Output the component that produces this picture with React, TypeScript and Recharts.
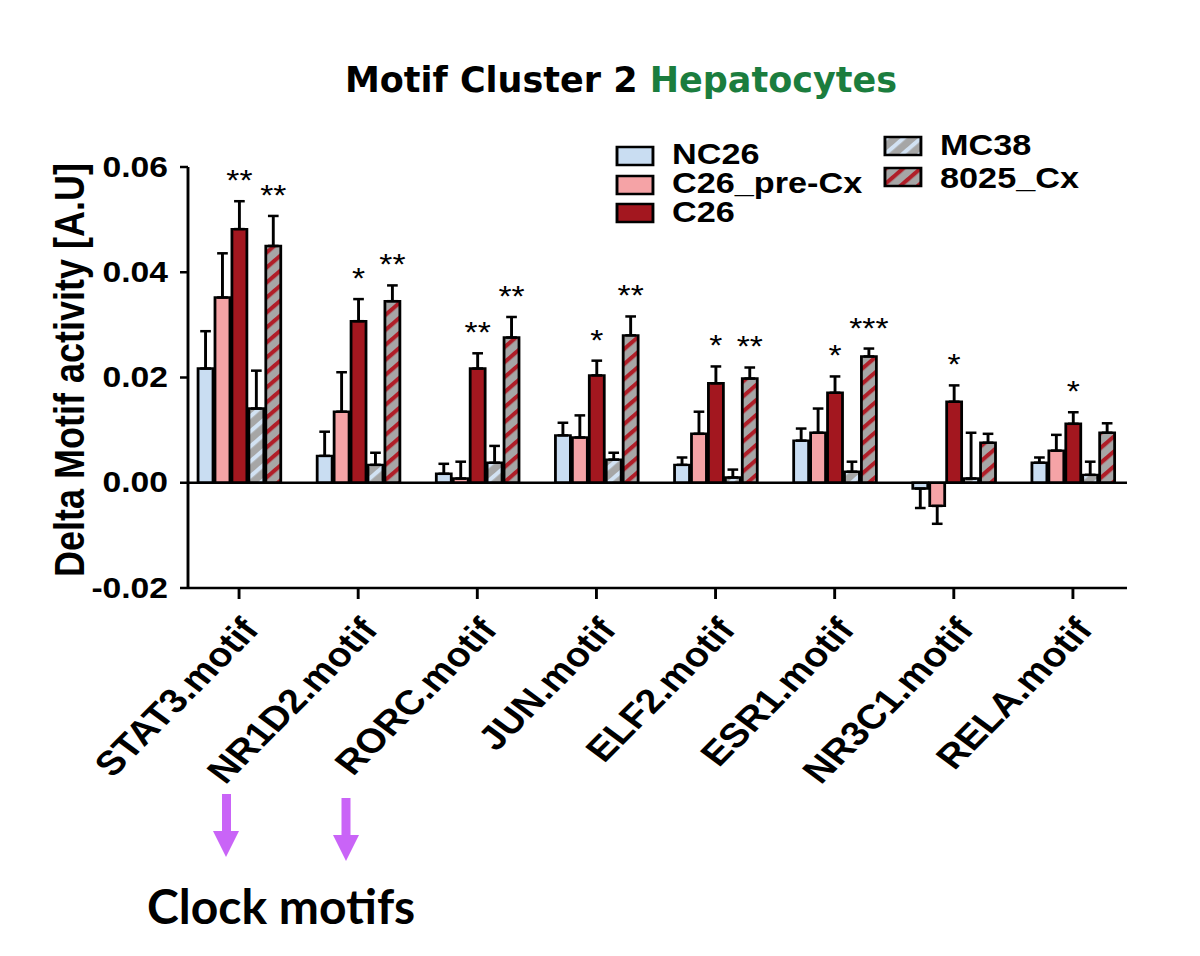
import React from "react";
import {
  BarChart,
  Bar,
  XAxis,
  YAxis,
  ErrorBar,
  ReferenceLine,
  LabelList,
  Legend,
} from "recharts";

// values (A.U)
const MOTIFS = [
  "STAT3.motif",
  "NR1D2.motif",
  "RORC.motif",
  "JUN.motif",
  "ELF2.motif",
  "ESR1.motif",
  "NR3C1.motif",
  "RELA.motif",
];
const NC26 = [0.0217, 0.0051, 0.0017, 0.009, 0.0034, 0.008, -0.0011, 0.0038];
const NC26_ERR = [0.0071, 0.0046, 0.0019, 0.0024, 0.0014, 0.0023, 0.0037, 0.001];
const PRE_CX = [0.0352, 0.0135, 0.0008, 0.0086, 0.0093, 0.0095, -0.0044, 0.0061];
const PRE_CX_ERR = [0.0084, 0.0075, 0.0032, 0.0042, 0.0042, 0.0046, 0.0034, 0.003];
const C26 = [0.0482, 0.0307, 0.0217, 0.0204, 0.0189, 0.0171, 0.0154, 0.0112];
const C26_ERR = [0.0053, 0.0042, 0.0029, 0.0028, 0.0032, 0.0031, 0.0031, 0.0022];
const MC38 = [0.0141, 0.0034, 0.0038, 0.0044, 0.001, 0.0021, 0.0008, 0.0015];
const MC38_ERR = [0.0072, 0.0023, 0.0032, 0.0013, 0.0015, 0.0019, 0.0087, 0.0025];
const CX8025 = [0.045, 0.0345, 0.0276, 0.028, 0.0198, 0.024, 0.0076, 0.0095];
const CX8025_ERR = [0.0057, 0.003, 0.0039, 0.0036, 0.0021, 0.0015, 0.0017, 0.0018];
const C26_STARS = ["**", "*", "**", "*", "*", "*", "*", "*"];
const CX8025_STARS = ["**", "**", "**", "**", "**", "***", "", ""];
const Y_TICKS = [-0.02, 0, 0.02, 0.04, 0.06];

const SERIES = [
  { key: "nc26", name: "NC26", values: NC26, errs: NC26_ERR, fill: "#c9ddf2" },
  { key: "pre", name: "C26_pre-Cx", values: PRE_CX, errs: PRE_CX_ERR, fill: "#f5a3a6" },
  { key: "c26", name: "C26", values: C26, errs: C26_ERR, fill: "#a3171f" },
  { key: "mc38", name: "MC38", values: MC38, errs: MC38_ERR, fill: "url(#hatchMC38)" },
  { key: "cx", name: "8025_Cx", values: CX8025, errs: CX8025_ERR, fill: "url(#hatch8025)" },
];

// error bars go away from zero only
const data = MOTIFS.map((motif, i) => {
  const row: Record<string, any> = { motif };
  SERIES.forEach((s) => {
    const v = s.values[i];
    row[s.key] = v;
    row[s.key + "Err"] = v < 0 ? [s.errs[i], 0] : [0, s.errs[i]];
  });
  row.c26Stars = C26_STARS[i];
  row.cxStars = CX8025_STARS[i];
  return row;
});

// the original figure is stretched sideways, so the chart is drawn narrow and scaled
const SX = 1.16;
const W = 1200 / SX;
const H = 956;
const FONT = '"Liberation Sans", Arial, sans-serif';
// rotation before the stretch that ends up at 45 degrees on the page
const LABEL_ANGLE = (Math.atan(SX) * 180) / Math.PI;

function YTick({ x, y, payload }: any) {
  return (
    <text
      x={x}
      y={y}
      textAnchor="end"
      dominantBaseline="central"
      fontFamily={FONT}
      fontWeight={700}
      fontSize={29}
      fill="#000"
    >
      {Number(payload.value).toFixed(2)}
    </text>
  );
}

function XTick({ x, y, payload }: any) {
  return (
    <text
      x={x}
      y={y}
      dy="0.72em"
      transform={`rotate(${-LABEL_ANGLE}, ${x}, ${y})`}
      textAnchor="end"
      fontFamily={FONT}
      fontWeight={700}
      fontSize={34}
      fill="#000"
    >
      {payload.value}
    </text>
  );
}

function starLabel(errs: number[], values: number[]) {
  return (props: any) => {
    const vb = props.viewBox ?? props;
    const { x, y, width, height } = vb;
    const i = props.index;
    const stars = props.value;
    if (!stars || i == null) return null;
    const pxPerUnit = height / values[i];
    const errTop = y - errs[i] * pxPerUnit;
    return (
      <text
        x={x + width / 2}
        y={errTop - 11}
        textAnchor="middle"
        fontFamily={FONT}
        fontSize={29}
        fill="#000"
      >
        {stars}
      </text>
    );
  };
}

const LEGEND_SLOTS = [
  { x: 531.9, sy: 147, by: 164 },
  { x: 531.9, sy: 176, by: 193 },
  { x: 531.9, sy: 204, by: 222 },
  { x: 762.9, sy: 137, by: 155 },
  { x: 762.9, sy: 168, by: 188 },
];

function LegendBox() {
  return (
    <svg width={W} height={240} style={{ display: "block" }}>
      {SERIES.map((s, i) => {
        const slot = LEGEND_SLOTS[i];
        return (
          <g key={s.key}>
            <rect
              x={slot.x}
              y={slot.sy}
              width={31}
              height={18}
              fill={s.fill}
              stroke="#000"
              strokeWidth={2.5}
            />
            <text
              x={slot.x + 47.5}
              y={slot.by}
              fontFamily={FONT}
              fontWeight={700}
              fontSize={29.5}
              fill="#000"
            >
              {s.name}
            </text>
          </g>
        );
      })}
    </svg>
  );
}

function YLabel() {
  return (
    <text
      x={60}
      y={370}
      transform="rotate(-90, 60, 370)"
      textAnchor="middle"
      dominantBaseline="central"
      fontFamily={FONT}
      fontWeight={700}
      fontSize={36}
      fill="#000"
    >
      Delta Motif activity [A.U]
    </text>
  );
}

export default function App() {
  return (
    <div style={{ position: "absolute", left: 0, top: 0, width: 1200, height: H, background: "#fff" }}>
      <div
        style={{
          position: "absolute",
          left: 0,
          top: 0,
          width: W,
          height: H,
          transform: `scaleX(${SX})`,
          transformOrigin: "0 0",
        }}
      >
        <BarChart
          width={W}
          height={H}
          data={data}
          margin={{ top: 167, right: W - 1127 / SX, bottom: 328, left: 0 }}
          barSize={12.9}
          barGap={1.7}
        >
          <defs>
            <pattern
              id="hatchMC38"
              patternUnits="userSpaceOnUse"
              width={10.6}
              height={10.6}
              patternTransform="rotate(45)"
            >
              <rect width={10.6} height={10.6} fill="#a6a6a6" />
              <rect width={3.8} height={10.6} fill="#d2e2f3" />
            </pattern>
            <pattern
              id="hatch8025"
              patternUnits="userSpaceOnUse"
              width={10.6}
              height={10.6}
              patternTransform="rotate(45)"
            >
              <rect width={10.6} height={10.6} fill="#a6a6a6" />
              <rect width={3.8} height={10.6} fill="#b01e28" />
            </pattern>
          </defs>
          <XAxis
            dataKey="motif"
            height={40}
            padding={{ left: (179.5 - 188) / SX, right: (1127 - 1132.5) / SX }}
            axisLine={{ stroke: "#000", strokeWidth: 2.5 }}
            tickLine={{ stroke: "#000", strokeWidth: 2.5 }}
            tickSize={11}
            tickMargin={16}
            tick={<XTick />}
            interval={0}
          />
          <YAxis
            width={188 / SX}
            domain={[-0.02, 0.06]}
            ticks={Y_TICKS}
            allowDataOverflow
            axisLine={{ stroke: "#000", strokeWidth: 2.5 }}
            tickLine={{ stroke: "#000", strokeWidth: 2.5 }}
            tickSize={6.9}
            tickMargin={10.3}
            tick={<YTick />}
            label={YLabel}
          />
          <Legend
            layout="horizontal"
            verticalAlign="middle"
            align="center"
            content={LegendBox}
            wrapperStyle={{ left: 0, top: 0, width: W, height: 240 }}
          />
          <ReferenceLine y={0} stroke="#000" strokeWidth={2.5} />
          {SERIES.map((s) => (
            <Bar
              key={s.key}
              dataKey={s.key}
              name={s.name}
              fill={s.fill}
              stroke="#000"
              strokeWidth={2.4}
              isAnimationActive={false}
            >
              <ErrorBar
                dataKey={s.key + "Err"}
                width={4.6}
                stroke="#000"
                strokeWidth={2.5}
                isAnimationActive={false}
              />
              {s.key === "c26" && (
                <LabelList dataKey="c26Stars" content={starLabel(C26_ERR, C26)} />
              )}
              {s.key === "cx" && (
                <LabelList dataKey="cxStars" content={starLabel(CX8025_ERR, CX8025)} />
              )}
            </Bar>
          ))}
        </BarChart>
      </div>
      <svg
        width={1200}
        height={H}
        style={{ position: "absolute", left: 0, top: 0, pointerEvents: "none" }}
      >
        <text
          x={621}
          y={92}
          textAnchor="middle"
          fontFamily='"DejaVu Sans", Verdana, sans-serif'
          fontWeight={700}
          fontSize={35}
        >
          <tspan fill="#000">Motif Cluster 2 </tspan>
          <tspan fill="#1b7d3e">Hepatocytes</tspan>
        </text>
        <g fill="#c964f7">
          <rect x={222} y={794} width={9} height={38} />
          <polygon points="213,831 239,831 226,857" />
          <rect x={341.5} y={798} width={9} height={38} />
          <polygon points="333,835 359,835 346,861" />
        </g>
        <text
          x={147}
          y={924}
          fontFamily='Lato, "Open Sans", sans-serif'
          fontWeight={700}
          fontSize={48}
          fill="#000"
        >
          Clock motifs
        </text>
      </svg>
    </div>
  );
}
